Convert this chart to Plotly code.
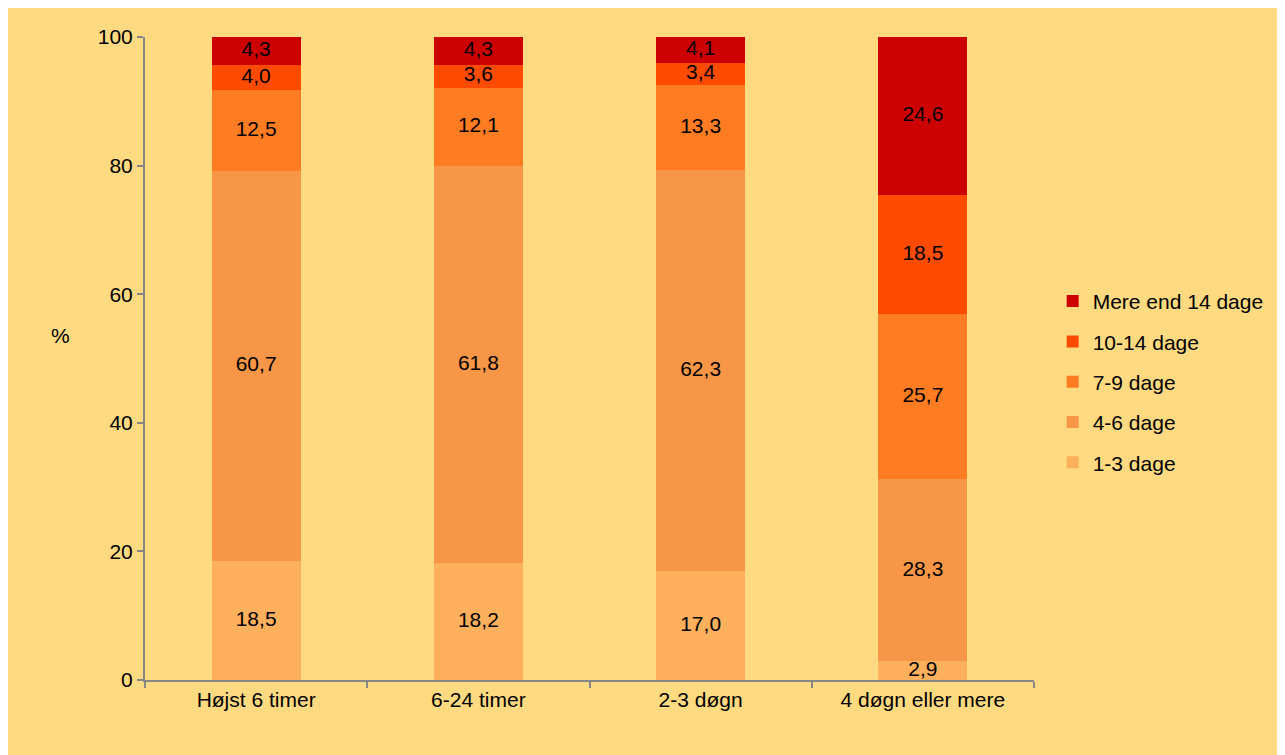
import plotly.graph_objects as go
import numpy as np

categories = ["Højst 6 timer", "6-24 timer", "2-3 døgn", "4 døgn eller mere"]
series_names = ["1-3 dage", "4-6 dage", "7-9 dage", "10-14 dage", "Mere end 14 dage"]
values_1_3 = [18.5, 18.2, 17.0, 2.9]
values_4_6 = [60.7, 61.8, 62.3, 28.3]
values_7_9 = [12.5, 12.1, 13.3, 25.7]
values_10_14 = [4.0, 3.6, 3.4, 18.5]
values_14plus = [4.3, 4.3, 4.1, 24.6]
y_ticks = [0, 20, 40, 60, 80, 100]

all_values = [values_1_3, values_4_6, values_7_9, values_10_14, values_14plus]
colors = ["#FFB05C", "#F79646", "#FF7C22", "#FF4B00", "#CC0000"]

FONT = "Liberation Sans, Arial, sans-serif"
BG = "#FFDA80"
FS = 21

fig = go.Figure()
base = np.zeros(len(categories))
n = len(series_names)
for i, (name, vals, col) in enumerate(zip(series_names, all_values, colors)):
    fig.add_trace(go.Bar(
        x=categories, y=vals, name=name, marker=dict(color=col, line=dict(width=0)),
        width=0.4, legendgroup=name, legendrank=n - i, hoverinfo="skip",
    ))
    mids = base + np.array(vals) / 2
    fig.add_trace(go.Scatter(
        x=categories, y=mids, mode="text",
        text=[f"{v:.1f}".replace(".", ",") for v in vals],
        textfont=dict(family=FONT, size=FS, color="#000000"),
        showlegend=False, hoverinfo="skip", legendgroup=name, legendrank=n - i,
    ))
    base = base + np.array(vals)

fig.update_layout(
    width=1277, height=747,
    barmode="stack",
    paper_bgcolor=BG, plot_bgcolor=BG,
    margin=dict(l=137, r=251, t=29, b=75),
    font=dict(family=FONT, size=FS, color="#000000"),
    showlegend=True,
    legend=dict(
        traceorder="grouped", x=1.021, xanchor="left", y=0.4635, yanchor="middle",
        font=dict(family=FONT, size=FS), tracegroupgap=10, bgcolor="rgba(0,0,0,0)",
        itemwidth=30,
    ),
    xaxis=dict(
        type="category", showline=True, linecolor="#868686", linewidth=2,
        ticks="outside", tickson="boundaries", ticklen=6, tickcolor="#868686", tickwidth=2,
        showgrid=False, tickfont=dict(family=FONT, size=FS), range=[-0.5, 3.5],
    ),
    yaxis=dict(
        range=[0, 100], tickvals=y_ticks, showline=True, linecolor="#868686", linewidth=2,
        ticks="outside", ticklen=6, tickcolor="#868686", tickwidth=2,
        showgrid=False, zeroline=False, tickfont=dict(family=FONT, size=FS),
    ),
    annotations=[dict(
        text="%", xref="paper", yref="paper", x=-0.1085, y=0.535, showarrow=False,
        font=dict(family=FONT, size=FS),
    )],
)

fig.write_html("out.html")
